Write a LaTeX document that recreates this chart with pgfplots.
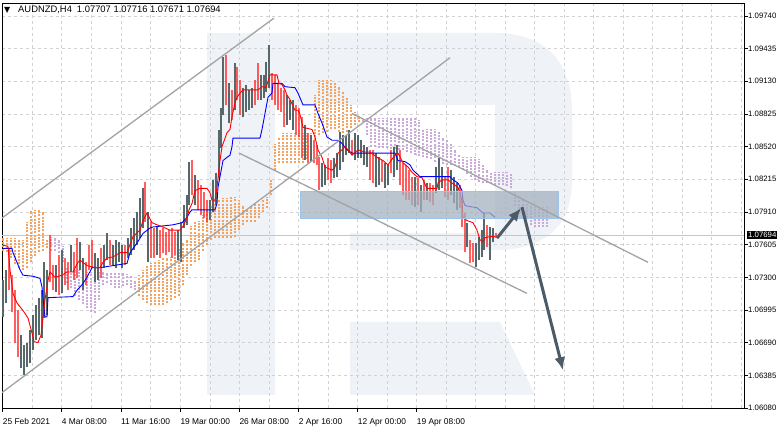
\documentclass[border=0pt]{standalone}
\usepackage{fontspec}
\setmainfont{Liberation Sans}
\newfontfamily\symfont{DejaVu Sans}
\usepackage{pgfplots}
\usepackage{pgfplotstable}
\pgfplotsset{compat=1.18}
\usetikzlibrary{arrows.meta}

\definecolor{bullc}{HTML}{56686A}
\definecolor{bearc}{HTML}{FF2A2A}
\definecolor{cloudA}{HTML}{F4A460}
\definecolor{cloudB}{HTML}{C9AAD8}
\definecolor{tline}{HTML}{A3A3A3}
\definecolor{arrc}{HTML}{4B5B68}
\definecolor{boxc}{HTML}{A3B1BF}
\definecolor{boxe}{HTML}{9CC2EE}
\definecolor{wm}{HTML}{EFF3F8}
\definecolor{gridc}{HTML}{D2D2D2}

% H4 bars: x position, low, high, c = 1 rising / 0 falling
\pgfplotstableread{
x lo hi c
3 1.06928 1.07274 1
6 1.07060 1.07367 1
9 1.07181 1.07573 0
12 1.06975 1.07321 0
15 1.06686 1.07181 0
18 1.06554 1.06994 0
21 1.06452 1.06760 1
24 1.06387 1.06667 1
27 1.06461 1.06686 1
30 1.06499 1.06807 1
33 1.06620 1.06947 1
36 1.06714 1.07041 1
39 1.06760 1.07106 1
42 1.06732 1.07181 1
44 1.06919 1.07442 1
47 1.06947 1.07367 1
50 1.07255 1.07694 0
53 1.07181 1.07414 0
56 1.07162 1.07414 1
59 1.07134 1.07508 0
62 1.07153 1.07554 1
65 1.07227 1.07480 0
68 1.07181 1.07442 0
71 1.07349 1.07601 1
74 1.07274 1.07536 0
77 1.07293 1.07666 0
80 1.07367 1.07629 1
83 1.07181 1.07480 1
86 1.07227 1.07442 0
89 1.07367 1.07601 0
92 1.07386 1.07648 0
95 1.07255 1.07526 1
98 1.07274 1.07480 1
101 1.07293 1.07573 0
104 1.07386 1.07601 1
107 1.07461 1.07713 1
110 1.07414 1.07648 0
113 1.07414 1.07601 1
116 1.07386 1.07648 1
119 1.07442 1.07629 1
122 1.07386 1.07601 1
125 1.07414 1.07601 0
128 1.07480 1.07666 1
131 1.07508 1.07760 1
134 1.07554 1.07853 1
137 1.07601 1.07909 1
140 1.07666 1.08040 1
143 1.07760 1.08133 1
145 1.07816 1.08189 0
148 1.07442 1.07909 1
151 1.07480 1.07816 0
154 1.07480 1.07760 0
157 1.07508 1.07778 1
160 1.07480 1.07741 0
163 1.07526 1.07760 0
166 1.07508 1.07722 0
169 1.07536 1.07741 0
172 1.07480 1.07760 0
175 1.07508 1.07722 0
178 1.07461 1.07741 1
181 1.07442 1.07816 1
184 1.07760 1.07975 1
187 1.07788 1.08068 1
189 1.07975 1.08376 1
192 1.08068 1.08395 0
195 1.07975 1.08255 1
198 1.07928 1.08208 0
201 1.07881 1.08161 0
204 1.07853 1.08096 0
207 1.07816 1.08021 0
210 1.07834 1.08021 1
213 1.07909 1.08208 1
216 1.07975 1.08273 1
219 1.08226 1.08675 1
221 1.08507 1.08880 1
223 1.08815 1.09357 1
226 1.08908 1.09375 0
229 1.08740 1.09114 1
232 1.08768 1.09048 0
235 1.08862 1.09301 1
237 1.08955 1.09263 0
240 1.08815 1.09142 0
243 1.08796 1.09067 1
246 1.08843 1.09095 1
249 1.08862 1.09048 1
252 1.08880 1.09067 1
255 1.08908 1.09142 0
258 1.08955 1.09301 0
261 1.08955 1.09189 1
264 1.08974 1.09189 1
266 1.09030 1.09310 1
269 1.09067 1.09469 1
272 1.08955 1.09207 0
275 1.08908 1.09189 0
278 1.08862 1.09114 0
281 1.08843 1.09067 0
284 1.08703 1.09048 0
287 1.08722 1.09002 1
290 1.08768 1.08955 1
293 1.08675 1.08955 1
296 1.08628 1.08908 0
299 1.08609 1.08880 0
302 1.08413 1.08796 0
305 1.08395 1.08722 1
308 1.08367 1.08647 0
311 1.08376 1.08628 1
314 1.08367 1.08582 0
317 1.08348 1.08535 0
319 1.08115 1.08423 0
322 1.08143 1.08367 1
325 1.08161 1.08348 1
328 1.08208 1.08413 0
331 1.08180 1.08395 0
334 1.08226 1.08413 1
337 1.08236 1.08460 1
340 1.08301 1.08656 1
343 1.08376 1.08628 1
346 1.08441 1.08628 1
349 1.08460 1.08675 1
352 1.08441 1.08582 0
355 1.08395 1.08647 1
358 1.08413 1.08628 1
361 1.08413 1.08582 1
364 1.08348 1.08535 1
367 1.08329 1.08516 1
370 1.08208 1.08488 0
373 1.08180 1.08488 0
376 1.08143 1.08460 1
379 1.08161 1.08423 1
382 1.08189 1.08395 0
385 1.08133 1.08367 1
388 1.08161 1.08348 1
391 1.08273 1.08488 0
394 1.08236 1.08516 1
397 1.08301 1.08535 1
400 1.08161 1.08488 0
403 1.08068 1.08367 0
406 1.08021 1.08348 0
409 1.08021 1.08301 0
412 1.07975 1.08236 0
415 1.07956 1.08236 1
418 1.07975 1.08226 0
421 1.07909 1.08161 1
424 1.08021 1.08208 0
427 1.08021 1.08180 1
430 1.08003 1.08180 0
433 1.07975 1.08161 0
436 1.08087 1.08329 1
439 1.08115 1.08413 1
442 1.08133 1.08329 1
445 1.08049 1.08236 0
448 1.08021 1.08329 0
451 1.08068 1.08301 1
454 1.07993 1.08236 1
457 1.07928 1.08180 1
460 1.07946 1.08161 0
462 1.07769 1.08049 0
465 1.07536 1.07900 0
467 1.07582 1.07806 1
470 1.07433 1.07648 0
473 1.07442 1.07620 0
476 1.07395 1.07620 1
479 1.07461 1.07676 1
482 1.07489 1.07741 1
484 1.07554 1.07900 1
487 1.07582 1.07788 0
490 1.07461 1.07769 1
493 1.07629 1.07760 1
496 1.07671 1.07716 0
}\bars

% Ichimoku cloud: Senkou span A and B
\pgfplotstableread{
x A B
3 1.0767 1.0755
7 1.0767 1.0754
11 1.0767 1.0748
15 1.0767 1.0742
19 1.0765 1.0739
23 1.0765 1.0737
27 1.0782 1.0739
31 1.0792 1.0744
35 1.0793 1.0750
39 1.0793 1.0754
43 1.0791 1.0755
47 1.0765 1.0757
51 1.0755 1.0768
55 1.0755 1.0767
59 1.0753 1.0765
63 1.0744 1.0759
67 1.0725 1.0739
71 1.0720 1.0737
75 1.0713 1.0737
79 1.0709 1.0737
83 1.0705 1.0736
87 1.0701 1.0735
91 1.0698 1.0735
95 1.0697 1.0735
99 1.0709 1.0735
103 1.0723 1.0735
107 1.0725 1.0734
111 1.0723 1.0734
115 1.0720 1.0734
119 1.0720 1.0734
123 1.0722 1.0734
127 1.0723 1.0733
131 1.0720 1.0731
135 1.0718 1.0727
139 1.0732 1.0713
143 1.0737 1.0709
147 1.0741 1.0706
151 1.0743 1.0704
155 1.0744 1.0704
159 1.0746 1.0704
163 1.0748 1.0704
167 1.0748 1.0706
171 1.0749 1.0709
175 1.0751 1.0711
179 1.0757 1.0713
183 1.0762 1.0723
187 1.0765 1.0732
191 1.0778 1.0741
195 1.0782 1.0744
199 1.0783 1.0746
203 1.0788 1.0755
207 1.0793 1.0760
211 1.0797 1.0765
215 1.0802 1.0767
219 1.0802 1.0767
223 1.0804 1.0767
227 1.0804 1.0767
231 1.0805 1.0767
235 1.0805 1.0768
239 1.0802 1.0774
243 1.0797 1.0779
247 1.0793 1.0782
251 1.0797 1.0782
255 1.0799 1.0782
259 1.0799 1.0785
263 1.0802 1.0791
267 1.0805 1.0795
271 1.0821 1.0807
275 1.0854 1.0830
279 1.0860 1.0837
283 1.0865 1.0837
287 1.0865 1.0837
291 1.0865 1.0837
295 1.0865 1.0837
299 1.0865 1.0837
303 1.0865 1.0837
307 1.0865 1.0840
311 1.0865 1.0849
315 1.0900 1.0858
319 1.0914 1.0863
323 1.0914 1.0865
327 1.0914 1.0866
331 1.0914 1.0868
335 1.0912 1.0868
339 1.0908 1.0866
343 1.0903 1.0865
347 1.0898 1.0866
351 1.0891 1.0869
355 1.0884 1.0872
359 1.0880 1.0875
363 1.0875 1.0878
367 1.0863 1.0879
371 1.0852 1.0879
375 1.0852 1.0879
379 1.0851 1.0879
383 1.0851 1.0879
387 1.0851 1.0879
391 1.0850 1.0879
395 1.0850 1.0879
399 1.0849 1.0879
403 1.0849 1.0879
407 1.0847 1.0879
411 1.0846 1.0879
415 1.0844 1.0879
419 1.0843 1.0877
423 1.0842 1.0868
427 1.0841 1.0868
431 1.0840 1.0868
435 1.0838 1.0868
439 1.0837 1.0866
443 1.0836 1.0860
447 1.0835 1.0858
451 1.0835 1.0855
455 1.0834 1.0849
459 1.0833 1.0844
463 1.0830 1.0842
467 1.0826 1.0842
471 1.0824 1.0842
475 1.0821 1.0842
479 1.0819 1.0840
483 1.0818 1.0835
487 1.0818 1.0830
491 1.0817 1.0828
495 1.0816 1.0828
499 1.0816 1.0828
503 1.0816 1.0828
507 1.0815 1.0828
511 1.0813 1.0826
515 1.0797 1.0811
519 1.0791 1.0802
523 1.0788 1.0802
527 1.0785 1.0799
531 1.0779 1.0797
535 1.0777 1.0796
539 1.0777 1.0796
543 1.0777 1.0796
547 1.0777 1.0796
}\cloud

\pgfplotsset{
  vbar/.style={only marks, mark=*, mark size=0pt, mark options={draw=none, fill=none},
    error bars/y dir=plus, error bars/y explicit, error bars/error mark=none,
    error bars/error bar style={#1}},
}

\begin{document}
\begin{tikzpicture}[x=1pt,y=1pt]
\useasboundingbox (0,0) rectangle (782,431);
% faint watermark
\fill[wm] (207,36) rectangle (275,398);
\fill[wm,even odd rule] (275,398) -- (495,398) .. controls (545,398) and (572,370) .. (572,320)
  -- (572,250) .. controls (572,205) and (545,181) .. (495,181) -- (350,181) -- (350,326) -- (275,326) -- cycle
  (350,326) rectangle (495,198);
\fill[wm] (350,109) -- (500,109) -- (535,36) -- (350,36) -- cycle;

\begin{axis}[
  at={(2pt,23pt)}, anchor=south west,
  scale only axis, width=742pt, height=405pt,
  xmin=2, xmax=744, ymin=1.06080, ymax=1.09861,
  axis line style={black, line width=0.9pt},
  tick align=outside, major tick length=4pt, minor tick length=0pt,
  tick style={black, line width=0.7pt},
  xtick pos=bottom, ytick pos=right, yticklabel pos=right,
  xtick={2.7,61.7,121,180.3,239.3,298.7,357.7,416.7},
  xticklabels={25 Feb 2021,4 Mar 08:00,11 Mar 16:00,19 Mar 00:00,26 Mar 08:00,2 Apr 16:00,12 Apr 00:00,19 Apr 08:00},
  minor xtick={32.2,91.4,150.6,209.8,269,328.2,387.2,446.2,475.7,505.2,534.7,564.2,593.7,623.2,652.7,682.2,711.7,741.2},
  ytick={1.06080,1.06385,1.06690,1.06995,1.07300,1.07605,1.07910,1.08215,1.08520,1.08825,1.09130,1.09435,1.09740},
  yticklabels={1.06080,1.06385,1.06690,1.06995,1.07300,1.07605,1.07910,1.08215,1.08520,1.08825,1.09130,1.09435,1.09740},
  grid=both,
  major grid style={gridc, dash pattern=on 3pt off 3pt, line width=0.6pt},
  minor grid style={gridc, dash pattern=on 3pt off 3pt, line width=0.6pt},
  xticklabel style={anchor=north west, inner sep=0pt, yshift=-6pt, font=\fontsize{8.4}{9}\selectfont},
  yticklabel style={anchor=west, inner sep=0pt, font=\fontsize{7.8}{9}\selectfont},
]
% current price line
\draw[gray!45, line width=0.7pt] (2,1.07694) -- (744,1.07694);

% cloud, A above B (orange) and B above A (lilac)
\addplot[vbar={cloudA, line width=1.8pt, dash pattern=on 2pt off 1.2pt},
  restrict expr to domain={\thisrow{A}-\thisrow{B}}{0:1}]
  table[x=x, y=B, y error plus expr=\thisrow{A}-\thisrow{B}] {\cloud};
\addplot[vbar={cloudB, line width=1.8pt, dash pattern=on 2pt off 1.2pt},
  restrict expr to domain={\thisrow{B}-\thisrow{A}}{0.00001:1}]
  table[x=x, y=A, y error plus expr=\thisrow{B}-\thisrow{A}] {\cloud};

% price bars
\addplot[vbar={bullc, line width=1.3pt}, restrict expr to domain={\thisrow{c}}{0.5:1.5}]
  table[x=x, y=lo, y error plus expr=\thisrow{hi}-\thisrow{lo}] {\bars};
\addplot[vbar={bearc, opacity=0.75, line width=1.3pt}, restrict expr to domain={\thisrow{c}}{-0.5:0.5}]
  table[x=x, y=lo, y error plus expr=\thisrow{hi}-\thisrow{lo}] {\bars};

% Kijun-sen
\addplot[blue, line width=0.9pt, mark=none] coordinates {
(3,1.0757) (12,1.0757) (13,1.0753) (17,1.0744) (20,1.0737) (23,1.0732) (33,1.0731)
(40,1.0729) (42,1.0721) (43,1.0711) (45,1.0693) (47,1.0693) (48,1.0711) (73,1.0712)
(77,1.0718) (82,1.0723) (87,1.0730) (92,1.0739) (100,1.0739) (127,1.0743) (130,1.0753)
(137,1.0762) (143,1.0771) (150,1.0776) (153,1.0777) (173,1.0779) (182,1.0781) (187,1.0786)
(190,1.0791) (192,1.0793) (215,1.0793) (217,1.0799) (218,1.0814) (220,1.0824) (223,1.0839)
(227,1.0842) (230,1.0844) (232,1.0852) (233,1.0860) (260,1.0860) (262,1.0868) (265,1.0883)
(267,1.0893) (268,1.0898) (272,1.0902) (273,1.0911) (282,1.0911) (285,1.0908) (295,1.0907)
(298,1.0902) (303,1.0891) (315,1.0891) (318,1.0883) (322,1.0874) (327,1.0861) (332,1.0858)
(338,1.0858) (342,1.0855) (347,1.0849) (352,1.0846) (395,1.0846) (398,1.0839) (405,1.0838)
(410,1.0835) (413,1.0830) (420,1.0824) (450,1.0824) (453,1.0821) (458,1.0818) (462,1.0811)
(463,1.0802) (465,1.0797) (470,1.0796) (477,1.0795) (483,1.0790) (490,1.0790) (495,1.0786)
};
% Tenkan-sen
\addplot[red, line width=0.9pt, mark=none] coordinates {
(3,1.0760) (8,1.0759) (10,1.0737) (13,1.0715) (17,1.0706) (23,1.0699) (28,1.0692)
(32,1.0678) (34,1.0670) (38,1.0669) (41,1.0676) (43,1.0692) (45,1.0709) (48,1.0727)
(50,1.0735) (55,1.0730) (62,1.0732) (67,1.0735) (73,1.0735) (78,1.0744) (80,1.0746)
(87,1.0741) (95,1.0739) (100,1.0739) (103,1.0744) (107,1.0748) (113,1.0749) (120,1.0753)
(127,1.0753) (133,1.0768) (140,1.0774) (143,1.0783) (147,1.0790) (152,1.0781) (157,1.0779)
(163,1.0777) (170,1.0774) (180,1.0774) (184,1.0779) (187,1.0786) (189,1.0793) (192,1.0799)
(195,1.0811) (200,1.0813) (207,1.0813) (210,1.0809) (212,1.0802) (215,1.0802) (217,1.0814)
(220,1.0839) (222,1.0852) (227,1.0865) (230,1.0868) (232,1.0880) (235,1.0893) (237,1.0898)
(240,1.0902) (243,1.0905) (258,1.0905) (262,1.0908) (266,1.0907) (270,1.0919) (277,1.0919)
(279,1.0911) (282,1.0910) (285,1.0905) (287,1.0900) (290,1.0896) (295,1.0886) (298,1.0886)
(300,1.0882) (303,1.0870) (312,1.0868) (315,1.0861) (318,1.0849) (322,1.0842) (325,1.0833)
(332,1.0830) (335,1.0833) (337,1.0839) (338,1.0846) (342,1.0849) (345,1.0852) (348,1.0849)
(352,1.0844) (358,1.0849) (365,1.0847) (370,1.0847) (377,1.0842) (383,1.0839) (388,1.0835)
(391,1.0839) (395,1.0844) (398,1.0846) (403,1.0837) (408,1.0833) (412,1.0828) (417,1.0824)
(422,1.0823) (427,1.0813) (437,1.0813) (438,1.0818) (442,1.0821) (448,1.0821) (452,1.0818)
(455,1.0816) (458,1.0814) (462,1.0802) (463,1.0786) (467,1.0783) (473,1.0781) (477,1.0774)
(480,1.0765) (483,1.0763) (485,1.0767) (490,1.0768) (495,1.0768)
};

% resistance zone
\fill[boxc, fill opacity=0.75] (300,1.08105) rectangle (558,1.07853);
\draw[boxe, line width=0.8pt] (300,1.08105) rectangle (558,1.07853);

% channel lines
\draw[tline, line width=1.3pt] (0,1.0784) -- (274,1.0972);
\draw[tline, line width=1.3pt] (0,1.0621) -- (450,1.0935);
\draw[tline, line width=1.3pt] (239,1.0846) -- (527,1.0715);
\draw[tline, line width=1.3pt] (352,1.0883) -- (648,1.0744);

% forecast arrows
\draw[arrc, line width=3pt, -{Latex[length=13pt,width=11pt]}] (497,1.07666) -- (521,1.07946);
\draw[arrc, line width=3pt, -{Latex[length=13pt,width=11pt]}] (522,1.07955) -- (563,1.06433);
\end{axis}

% title and current price tag
\node[anchor=base west, inner sep=0pt, font=\symfont\fontsize{8}{8}\selectfont] at (4,418) {▼};
\node[anchor=base west, inner sep=0pt, font=\fontsize{9.4}{10}\selectfont] at (18,418)
  {AUDNZD,H4\hspace{5pt}1.07707 1.07716 1.07671 1.07694};
\node[anchor=west, fill=black, text=white, inner sep=1pt, font=\fontsize{7.8}{9}\selectfont]
  at (747,196) {1.07694};
\end{tikzpicture}
\end{document}
